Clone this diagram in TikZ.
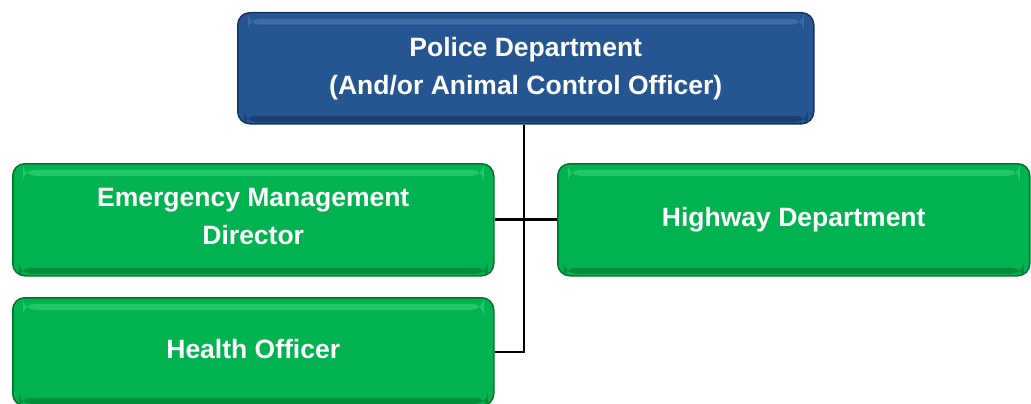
\documentclass[tikz,border=0pt]{standalone}
\usepackage{fontspec}
\setmainfont{Liberation Sans}
\definecolor{pblue}{RGB}{38,86,145}
\definecolor{pbluedark}{RGB}{20,52,95}
\definecolor{pbluelight}{RGB}{75,120,175}
\definecolor{pgreen}{RGB}{0,178,80}
\definecolor{pgreendark}{RGB}{0,115,45}
\definecolor{pgreenlight}{RGB}{60,215,120}
\tikzset{
  box/.style={rounded corners=12pt, anchor=north west, inner sep=0pt,
    font=\fontsize{26.5}{38}\selectfont\bfseries, text=white, align=center},
  bluebox/.style={box, fill=pblue, draw=pbluedark, line width=1.5pt,
    path picture={
      \fill[pbluelight,opacity=0.6] ([xshift=10pt,yshift=-6pt]path picture bounding box.north west) rectangle ([xshift=-10pt,yshift=-12pt]path picture bounding box.north east);
      \fill[pbluedark,opacity=0.6] ([xshift=6pt,yshift=8pt]path picture bounding box.south west) rectangle ([xshift=-6pt,yshift=2pt]path picture bounding box.south east);
    }},
  greenbox/.style={box, fill=pgreen, draw=pgreendark, line width=1.5pt,
    path picture={
      \fill[pgreenlight,opacity=0.6] ([xshift=10pt,yshift=-6pt]path picture bounding box.north west) rectangle ([xshift=-10pt,yshift=-12pt]path picture bounding box.north east);
      \fill[pgreendark,opacity=0.6] ([xshift=6pt,yshift=8pt]path picture bounding box.south west) rectangle ([xshift=-6pt,yshift=2pt]path picture bounding box.south east);
    }},
  conn/.style={draw=black, line width=2.6pt}
}
\begin{document}
\begin{tikzpicture}[x=1pt,y=-1pt]
\useasboundingbox (0,0) rectangle (1031,404);
\clip (0,0) rectangle (1031,404);
\node[bluebox, minimum width=576pt, minimum height=111pt] (police) at (237,12) {Police Department\\(And/or Animal Control Officer)};
\node[greenbox, minimum width=481pt, minimum height=112pt] (emd) at (12,163) {Emergency Management\\Director\rule[-6pt]{0pt}{1pt}};
\node[greenbox, minimum width=472pt, minimum height=112pt] (hwy) at (557,163) {Highway Department\rule[-6pt]{0pt}{1pt}};
\node[greenbox, minimum width=481pt, minimum height=108pt] (health) at (12,297) {Health Officer\rule[-6pt]{0pt}{1pt}};
\coordinate (vb) at (524,352);
\draw[conn] (police.south -| vb) -- (vb) -- (vb -| health.east);
\draw[conn] (emd.east) -- (hwy.west);
\end{tikzpicture}
\end{document}
